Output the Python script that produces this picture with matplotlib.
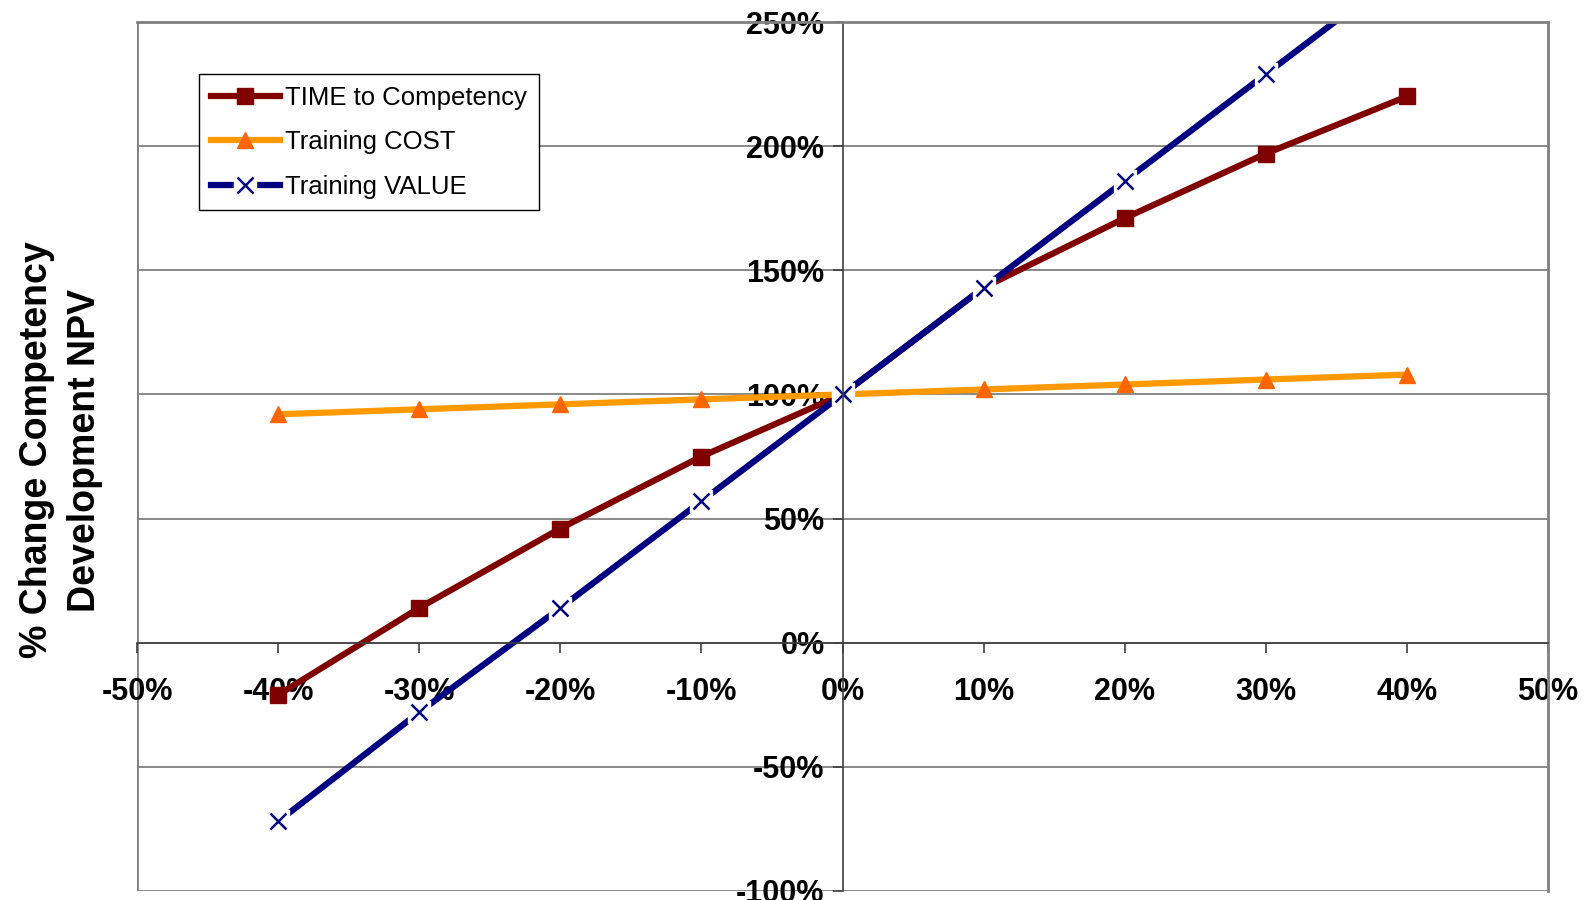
import matplotlib.pyplot as plt

plt.rcParams['font.family'] = ['Liberation Sans', 'DejaVu Sans']
plt.rcParams['axes.unicode_minus'] = False

# 参数变化幅度 (%)
changes = [-40, -30, -20, -10, 0, 10, 20, 30, 40]

# NPV 变化 (%)
time_to_competency = [-21, 14, 46, 75, 100, 143, 171, 197, 220]
training_cost = [92, 94, 96, 98, 100, 102, 104, 106, 108]
training_value = [-72, -28, 14, 57, 100, 143, 186, 229, 272]

x_ticks = [-50, -40, -30, -20, -10, 0, 10, 20, 30, 40, 50]
x_labels = ['-50%', '-40%', '-30%', '-20%', '-10%', '0%', '10%', '20%', '30%', '40%', '50%']
y_ticks = [-100, -50, 0, 50, 100, 150, 200, 250]
y_labels = ['-100%', '-50%', '0%', '50%', '100%', '150%', '200%', '250%']

fig = plt.figure(figsize=(15.94, 9), dpi=100)
ax = fig.add_axes([137 / 1594, 1 - 891 / 900, 1411 / 1594, 869 / 900])

grid_color = '#808080'
for y in y_ticks:
    ax.axhline(y, color=grid_color, lw=1.3, zorder=0.5)
ax.axvline(-50, color=grid_color, lw=2, zorder=0.5)

l_time, = ax.plot(changes, time_to_competency, color='#800000', lw=4.5,
                  marker='s', ms=11, mfc='#800000', mec='#800000', zorder=2)
l_cost, = ax.plot(changes, training_cost, color='#FF9900', lw=4.5,
                  marker='^', ms=11, mfc='#FF6600', mec='#FF6600', zorder=2.1)
# 白底方块把线打断，再叠加 x 标记
l_value, = ax.plot(changes, training_value, color='#000080', lw=4.5,
                   marker='s', ms=16, mfc='white', mec='white', zorder=2.2)
x_value, = ax.plot(changes, training_value, ls='none', marker='x', ms=11,
                   mew=1.8, color='#000080', zorder=2.3)

ax.set_xlim(-50, 50)
ax.set_ylim(-100, 250)

ax.spines['left'].set_position(('data', 0))
ax.spines['bottom'].set_position(('data', 0))
ax.spines['left'].set_color('#404040')
ax.spines['bottom'].set_color('#404040')
ax.spines['left'].set_linewidth(1.2)
ax.spines['bottom'].set_linewidth(1.2)
for side in ['top', 'right']:
    ax.spines[side].set_color(grid_color)
    ax.spines[side].set_linewidth(2)

ax.set_xticks(x_ticks)
ax.set_xticklabels(x_labels, fontsize=22, fontweight='bold')
ax.set_yticks(y_ticks)
ax.set_yticklabels(y_labels, fontsize=22, fontweight='bold')
ax.tick_params(axis='x', direction='out', length=7, width=1.2, pad=18, color='#404040')
ax.tick_params(axis='y', direction='out', length=7, width=1.2, pad=6, color='#404040')

fig.text(61 / 1594, 0.5, '% Change Competency\nDevelopment NPV', rotation=90,
         ha='center', va='center', fontsize=27, fontweight='bold', linespacing=1.45)

leg = ax.legend([l_time, l_cost, (l_value, x_value)],
                ['TIME to Competency', 'Training COST', 'Training VALUE'],
                loc='upper left', bbox_to_anchor=(62 / 1411, 1 - 52 / 869),
                borderaxespad=0, fontsize=18.5, frameon=True, fancybox=False,
                edgecolor='black', framealpha=1, handlelength=2.7,
                handletextpad=0.2, labelspacing=0.8, borderpad=0.45)
leg.get_frame().set_linewidth(1)

fig.savefig('out.png', dpi=100)
